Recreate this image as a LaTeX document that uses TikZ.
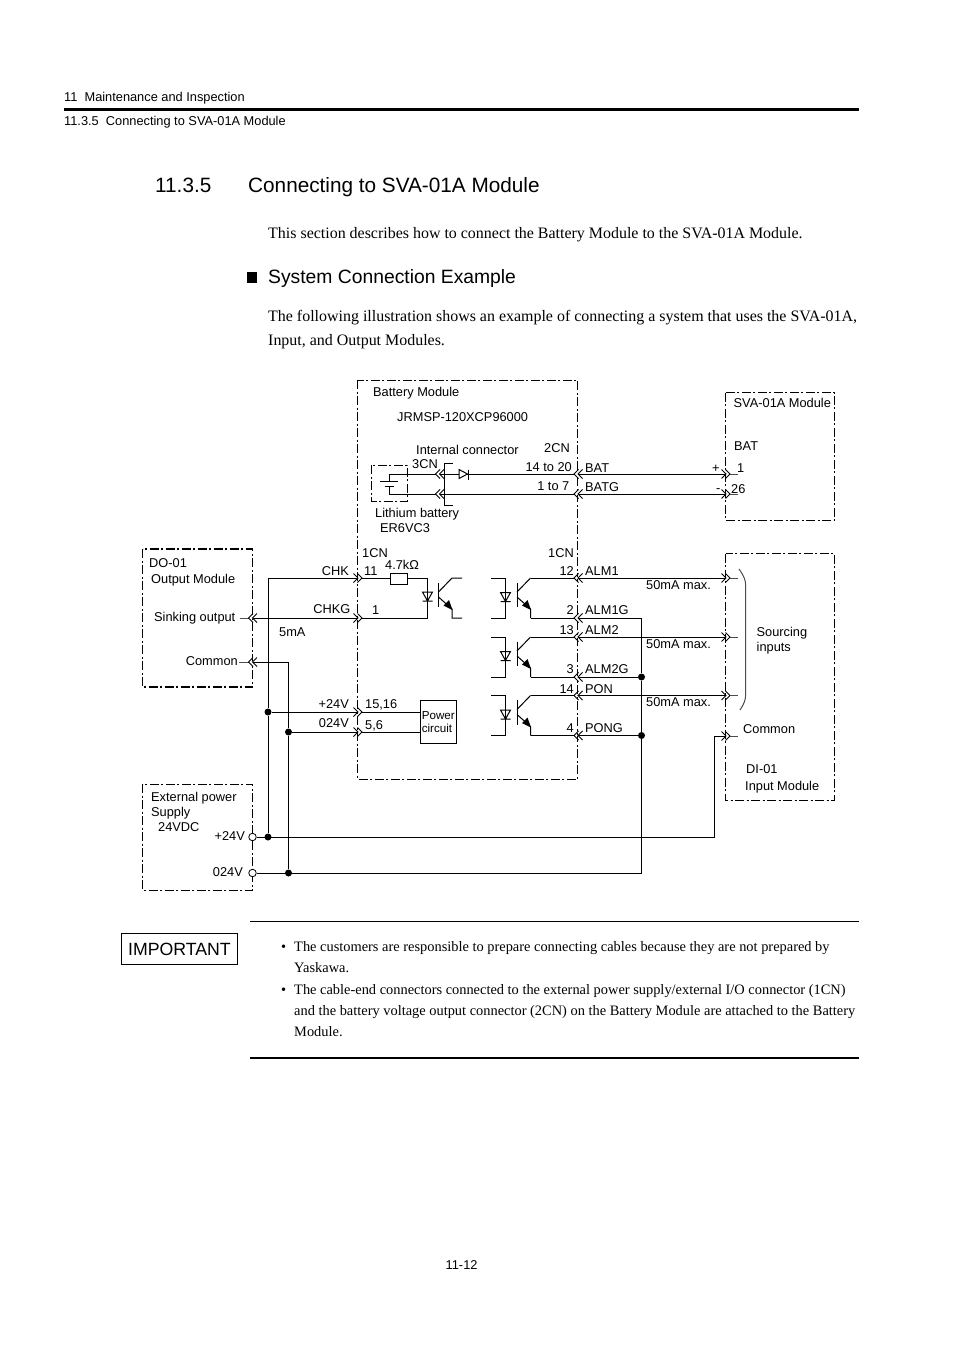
\documentclass[tikz,border=0pt]{standalone}
\usepackage{fontspec}
\setmainfont{Liberation Sans}
\newfontfamily\serifface{Liberation Serif}
\begin{document}
\begin{tikzpicture}[x=1pt,y=-1pt,line cap=butt,
  txt/.style={inner sep=0pt,anchor=west,text height=9pt,text depth=0pt,font=\fontsize{12.8}{14}\selectfont},
  txtr/.style={txt,anchor=east},
  wire/.style={line width=1pt},
  module/.style={line width=0.9pt,dash pattern=on 9pt off 2.5pt on 2pt off 2.5pt},
  boldmodule/.style={line width=1.4pt,dash pattern=on 9pt off 2.5pt on 2pt off 2.5pt},
  sym/.style={line width=1pt},
  tick/.style={line width=1pt,black!70},
  dot/.style={circle,fill=black,inner sep=0pt,minimum size=7pt},
  term/.style={circle,draw=black,fill=white,line width=0.8pt,inner sep=0pt,minimum size=7.5pt},
  body/.style={inner sep=0pt,anchor=west,text height=10.5pt,text depth=0pt,font=\serifface\fontsize{15.95}{18}\selectfont},
  note/.style={inner sep=0pt,anchor=west,text height=9.5pt,text depth=0pt,font=\serifface\fontsize{14.4}{18}\selectfont},
  chevl/.pic={\draw[white,line width=1.6pt] (-5.5,0)--(-1.5,0);\draw[line width=0.8pt] (-1,-4.5)--(-5.5,0)--(-1,4.5) (3,-4.5)--(-1.5,0)--(3,4.5);},
  chevr/.pic={\draw[white,line width=1.6pt] (5.5,0)--(1.5,0);\draw[line width=0.8pt] (1,-4.5)--(5.5,0)--(1,4.5) (-3,-4.5)--(1.5,0)--(-3,4.5);},
  opto/.pic={
    \draw[sym] (-5,14.5)--(5,14.5)--(0,23.5)--cycle (-5,23.5)--(5,23.5);
    \draw[sym] (0,0)--(0,40);
    \draw[sym] (-14.5,0)--(0,0) (-14.5,40)--(0,40);
    \draw[sym] (11.5,4.5)--(11.5,29);
    \draw[sym] (11.5,14)--(25,0);
    \draw[sym] (11.5,19)--(25,31)--(25,40);
    \fill (25.5,32)--(16.5,27.5)--(22,22)--cycle;
  }]
\useasboundingbox (0,0) rectangle (954,1351);
\fill[white] (0,0) rectangle (954,1351);
% page furniture
\node[txt] (hdra) at (64,97) {11\ \ Maintenance and Inspection};
\draw[line width=3.6pt] (64,109.5) -- (859,109.5);
\node[txt] (hdrb) at (64,121) {11.3.5\ \ Connecting to SVA-01A Module};
\node[txt,text height=15pt,font=\fontsize{20.75}{24}\selectfont] (secno) at (155,185.5) {11.3.5};
\node[txt,text height=15pt,font=\fontsize{20.75}{24}\selectfont] (sectitle) at (248,185.5) {Connecting to SVA-01A Module};
\node[body] (pa) at (268,233) {This section describes how to connect the Battery Module to the SVA-01A Module.};
\fill (246.5,271.5) rectangle (257,282.5);
\node[txt,text height=14pt,font=\fontsize{19.3}{24}\selectfont] (subttl) at (268,276) {System Connection Example};
\node[body] (pb) at (268,316) {The following illustration shows an example of connecting a system that uses the SVA-01A,};
\node[body] (pc) at (268,340) {Input, and Output Modules.};
% module frames
\draw[module] (357.5,380) rectangle (577.5,779);
\draw[module] (725.5,392.5) rectangle (834.5,520);
\draw[boldmodule] (142.5,549) rectangle (252.5,687);
\draw[module] (142.5,784) rectangle (252.5,890);
\draw[module] (725.5,553.5) rectangle (834.5,800);
\draw[module,line width=0.8pt] (371.5,465) rectangle (407,501);
% module texts
\node[txt] at (373,392) {Battery Module};
\node[txt] at (397,417) {JRMSP-120XCP96000};
\node[txt] at (416,450) {Internal connector};
\node[txt] at (412,464) {3CN};
\node[txt] at (544,448) {2CN};
\node[txtr] at (572,467) {14 to 20};
\node[txtr] at (569.5,486) {1 to 7};
\node[txt] at (585,467.5) {BAT};
\node[txt] at (585,486.5) {BATG};
\node[txt] at (375,513) {Lithium battery};
\node[txt] at (380,528) {ER6VC3};
\node[txt] at (733.5,402.5) {SVA-01A Module};
\node[txt] at (734,446) {BAT};
\node[txt] at (712,468) {+};
\node[txt] at (716,488) {-};
\node[txt] at (737,468) {1};
\node[txt] at (731,488.5) {26};
% battery
\coordinate (batt) at (389,474);
\coordinate (batb) at (389,494);
\coordinate (sva1) at (725.5,474);
\coordinate (sva2) at (725.5,494);
\draw[wire] (batt) -- (sva1);
\draw[wire] (batb) -- (sva2);
\draw[sym] (batt) -- (389,481) (380,481) -- (398,481) (384.5,486) -- (393.5,486) (389,486) -- (batb);
\draw[sym,fill=white] (459,469.5) -- (459,478.5) -- (467.5,474) -- cycle;
\draw[sym] (468.5,469.5) -- (468.5,479.5);
\draw[sym] (453,463.5) -- (444.5,463.5) -- (444.5,505) -- (453,505);
\pic at (441,474) {chevl};
\pic at (441,494) {chevl};
\pic at (579.5,474) {chevl};
\pic at (579.5,494) {chevl};
\pic at (724.5,474) {chevr};
\pic at (724.5,494) {chevr};
\draw[tick] (730,474) -- (738,474);
\draw[tick] (730,494) -- (738,494);
% left side
\node[txt] at (149,563) {DO-01};
\node[txt] at (151,579) {Output Module};
\node[txt] at (154,617) {Sinking output};
\node[txtr] at (238,661) {Common};
\node[txt] at (279,632) {5mA};
\node[txtr] at (349,571) {CHK};
\node[txtr] at (350.5,608.5) {CHKG};
\node[txt] at (362,552.5) {1CN};
\node[txt] at (364,571) {11};
\node[txt] at (385,565) {4.7kΩ};
\node[txt] at (372,609.5) {1};
\node[txtr] at (349,704) {+24V};
\node[txtr] at (349,723) {024V};
\node[txt] at (365,704) {15,16};
\node[txt] at (365,725) {5,6};
\node[txt] at (151,797) {External power};
\node[txt] at (151,812) {Supply};
\node[txt] at (158,827) {24VDC};
\node[txtr] at (245,836) {+24V};
\node[txtr] at (243,872) {024V};
% power circuit
\node[draw,line width=1pt,minimum width=36.5pt,minimum height=43.5pt,inner sep=0pt,align=left,font=\fontsize{11.6}{13.5}\selectfont] (pwr) at (438.3,722) {Power\\circuit};
% junctions
\node[dot] (j1) at (268,712) {};
\node[dot] (j2) at (288.5,732) {};
\node[dot] (j3) at (268,837) {};
\node[dot] (j4) at (288.5,873) {};
\node[dot] (j5) at (641.5,677) {};
\node[dot] (j6) at (641.5,735.5) {};
\node[term] (p24) at (252.5,837) {};
\node[term] (p0) at (252.5,873) {};
\coordinate (chk) at (268,578);
\coordinate (cmn) at (288.5,662);
\coordinate (do1) at (252.5,618);
\coordinate (do2) at (252.5,662);
\draw[wire] (j3) -- (j1) -- (chk) -- (390.5,578);
\draw[wire] (j4) -- (j2) -- (cmn) -- (do2);
\draw[wire] (407.5,578) -- (427.5,578);
\draw[wire] (do1) -- (427.5,618);
\draw[wire] (j1) -- (pwr.west |- j1);
\draw[wire] (j2) -- (pwr.west |- j2);
\draw[sym] (390.5,573) rectangle (407.5,584);
\draw[tick] (240,618) -- (248.5,618);
\draw[tick] (239,662) -- (248.5,662);
\pic at (254,618) {chevl};
\pic at (254,662) {chevl};
\pic at (356.5,578) {chevr};
\pic at (356.5,618) {chevr};
\pic at (356.5,712) {chevr};
\pic at (356.5,732) {chevr};
% left opto
\draw[sym] (427.5,578) -- (427.5,618);
\draw[sym] (422.5,592) -- (432.5,592) -- (427.5,601) -- cycle (422.5,601) -- (432.5,601);
\draw[sym] (438.5,582.5) -- (438.5,607);
\draw[sym] (438.5,592) -- (452,578) -- (462,578);
\draw[sym] (438.5,597) -- (452,609) -- (452,618) -- (462,618);
\fill (452.5,610) -- (443.5,605.5) -- (449,600) -- cycle;
% right optos
\pic at (505.5,578) {opto};
\pic at (505.5,637) {opto};
\pic at (505.5,695.5) {opto};
\coordinate (col1) at (530.5,578);
\coordinate (col2) at (530.5,637);
\coordinate (col3) at (530.5,695.5);
\coordinate (em1) at (530.5,618);
\coordinate (em2) at (530.5,677);
\coordinate (em3) at (530.5,735.5);
\draw[wire] (col1) -- (725.5,578);
\draw[wire] (col2) -- (725.5,637);
\draw[wire] (col3) -- (725.5,695.5);
\draw[wire] (em1) -- (641.5,618) -- (j5) -- (j6) -- (641.5,873) -- (p0);
\draw[wire] (em2) -- (j5);
\draw[wire] (em3) -- (j6);
\foreach \y in {578,618,637,677,695.5,735.5} {\pic at (579.5,\y) {chevl};}
\draw[wire] (p24) -- (714,837) -- (714,736) -- (725.5,736);
\foreach \y in {578,637,695.5,736} {\pic at (724.5,\y) {chevr}; \draw[tick] (730,\y) -- (738,\y);}
\draw[tick] (739,569) .. controls (744,576) and (745.7,580) .. (745.7,586) -- (745.7,694) .. controls (745.7,700) and (744,704) .. (740,710);
% right texts
\node[txtr] at (574,553) {1CN};
\node[txtr] at (574,571) {12};
\node[txtr] at (574,610) {2};
\node[txtr] at (574,630) {13};
\node[txtr] at (574,669) {3};
\node[txtr] at (574,689) {14};
\node[txtr] at (574,728) {4};
\node[txt] at (585,571) {ALM1};
\node[txt] at (585,610) {ALM1G};
\node[txt] at (585,630) {ALM2};
\node[txt] at (585,669) {ALM2G};
\node[txt] at (585,689) {PON};
\node[txt] at (585,728) {PONG};
\node[txt] at (646,585) {50mA max.};
\node[txt] at (646,644) {50mA max.};
\node[txt] at (646,702) {50mA max.};
\node[txt] at (756.5,632) {Sourcing};
\node[txt] at (756.5,647) {inputs};
\node[txt] at (743,729) {Common};
\node[txt] at (746,769) {DI-01};
\node[txt] at (745,786) {Input Module};
% important
\draw[line width=0.8pt] (250,921.5) -- (859,921.5);
\draw[line width=1.8pt] (250,1058) -- (859,1058);
\node[draw,line width=1pt,minimum width=116.5pt,minimum height=31pt,inner sep=0pt,font=\fontsize{17.7}{22}\selectfont] (imp) at (179.5,949) {IMPORTANT};
\node[note] at (281,946.5) {•};
\node[note] at (294,946.5) {The customers are responsible to prepare connecting cables because they are not prepared by};
\node[note] at (294,967.5) {Yaskawa.};
\node[note] at (281,989.5) {•};
\node[note] at (294,989.5) {The cable-end connectors connected to the external power supply/external I/O connector (1CN)};
\node[note] at (294,1010.5) {and the battery voltage output connector (2CN) on the Battery Module are attached to the Battery};
\node[note] at (294,1031.5) {Module.};
\node[txt] at (445.5,1265) {11-12};
\end{tikzpicture}
\end{document}
